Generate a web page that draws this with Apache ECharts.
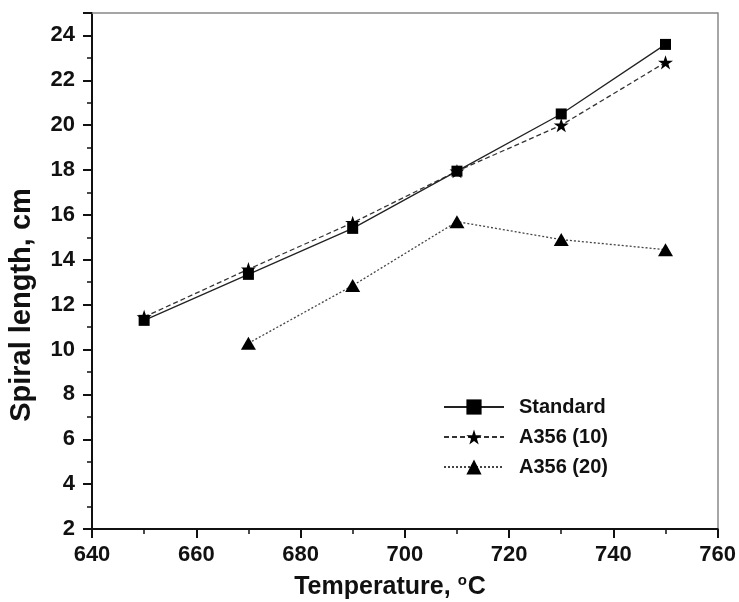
<!DOCTYPE html>
<html>
<head>
<meta charset="utf-8">
<script src="https://cdn.jsdelivr.net/npm/echarts@6/dist/echarts.min.js"></script>
<style>
  html, body { margin: 0; padding: 0; background: #fff; }
  #chart { width: 739px; height: 602px; }
</style>
</head>
<body>
<div id="chart"></div>
<script>
// Pouring temperature (°C) and measured spiral lengths (cm)
const temperatures = [650, 670, 690, 710, 730, 750];
const standardLen = [11.3, 13.35, 15.4, 17.95, 20.5, 23.6];
const a356_10Len = [11.45, 13.58, 15.65, 17.95, 20.0, 22.8];
const a356_20Len = [null, 10.28, 12.85, 15.7, 14.9, 14.45];

const xTicks = [640, 660, 680, 700, 720, 740, 760];
const yTicks = [2, 4, 6, 8, 10, 12, 14, 16, 18, 20, 22, 24];

const seriesNames = ['Standard', 'A356 (10)', 'A356 (20)'];
const xTitle = 'Temperature, ';
const yTitle = 'Spiral length, cm';

const STAR = 'path://M0,-1L0.2245,-0.309L0.951,-0.309L0.363,0.118L0.588,0.809L0,0.382L-0.588,0.809L-0.363,0.118L-0.951,-0.309L-0.2245,-0.309Z';

function pairs(values) {
  const out = [];
  temperatures.forEach((t, i) => {
    if (values[i] !== null) out.push([t, values[i]]);
  });
  return out;
}

const font = '"Liberation Sans", Arial, sans-serif';
const tickLabel = { fontFamily: font, fontWeight: 'bold', fontSize: 22, color: '#111' };

const chart = echarts.init(document.getElementById('chart'), null, { renderer: 'canvas' });

chart.setOption({
  animation: false,
  backgroundColor: '#fff',
  grid: { left: 92, right: 20, top: 13, bottom: 73, containLabel: false },
  legend: {
    orient: 'vertical',
    left: 443,
    top: 397,
    padding: 0,
    itemWidth: 60,
    itemHeight: 19,
    itemGap: 10,
    textStyle: { fontFamily: font, fontWeight: 'bold', fontSize: 20, color: '#111', padding: [0, 0, 0, 10] },
    data: seriesNames
  },
  graphic: [{
    type: 'text',
    x: 22, y: 305,
    rotation: Math.PI / 2,
    style: {
      text: yTitle,
      fontFamily: font, fontWeight: 'bold', fontSize: 29, fill: '#111',
      align: 'center', verticalAlign: 'middle'
    }
  }, {
    type: 'text',
    x: 390, y: 587,
    style: {
      text: '{t|' + xTitle + '}{sup|o}{t|C}',
      align: 'center', verticalAlign: 'middle',
      rich: {
        t: { fontFamily: font, fontWeight: 'bold', fontSize: 25, fill: '#111' },
        sup: { fontFamily: font, fontWeight: 'bold', fontSize: 15, fill: '#111', verticalAlign: 'top', padding: [0, 1, 12, 0] }
      }
    }
  }],
  xAxis: [{
    type: 'value',
    min: 640, max: 760, interval: 20,
    axisLine: { onZero: false, lineStyle: { color: '#111', width: 2 } },
    axisTick: { inside: false, length: 9, lineStyle: { color: '#111', width: 2 } },
    minorTick: { show: true, splitNumber: 2, length: 5, lineStyle: { color: '#111', width: 1.5 } },
    splitLine: { show: false },
    axisLabel: Object.assign({ margin: 15, formatter: v => xTicks.includes(v) ? String(v) : '' }, tickLabel)
  }, {
    type: 'value', position: 'top',
    min: 640, max: 760,
    axisLine: { show: true, lineStyle: { color: '#888', width: 1.5 } },
    axisTick: { show: false }, axisLabel: { show: false }, splitLine: { show: false }
  }],
  yAxis: [{
    type: 'value',
    min: 2, max: 25, interval: 2,
    axisLine: { onZero: false, lineStyle: { color: '#111', width: 2 } },
    axisTick: { inside: false, length: 9, lineStyle: { color: '#111', width: 2 } },
    minorTick: { show: true, splitNumber: 2, length: 5, lineStyle: { color: '#111', width: 1.5 } },
    splitLine: { show: false },
    axisLabel: Object.assign({ margin: 17, showMaxLabel: false, formatter: v => yTicks.includes(v) ? String(v) : '' }, tickLabel)
  }, {
    type: 'value', position: 'right',
    min: 2, max: 25,
    axisLine: { show: true, lineStyle: { color: '#888', width: 1.5 } },
    axisTick: { show: false }, axisLabel: { show: false }, splitLine: { show: false }
  }],
  series: [{
    name: 'Standard',
    type: 'line',
    data: pairs(standardLen),
    symbol: 'rect',
    symbolSize: 11,
    lineStyle: { color: '#222', width: 1.3, type: 'solid' },
    itemStyle: { color: '#000' },
    z: 3
  }, {
    name: 'A356 (10)',
    type: 'line',
    data: pairs(a356_10Len),
    symbol: STAR,
    symbolKeepAspect: true,
    symbolSize: 15,
    lineStyle: { color: '#333', width: 1.3, type: [5, 3] },
    itemStyle: { color: '#000' },
    z: 2
  }, {
    name: 'A356 (20)',
    type: 'line',
    data: pairs(a356_20Len),
    symbol: 'triangle',
    symbolSize: [15, 13],
    lineStyle: { color: '#444', width: 1.3, type: [2, 2] },
    itemStyle: { color: '#000' },
    z: 2
  }]
});
</script>
</body>
</html>
